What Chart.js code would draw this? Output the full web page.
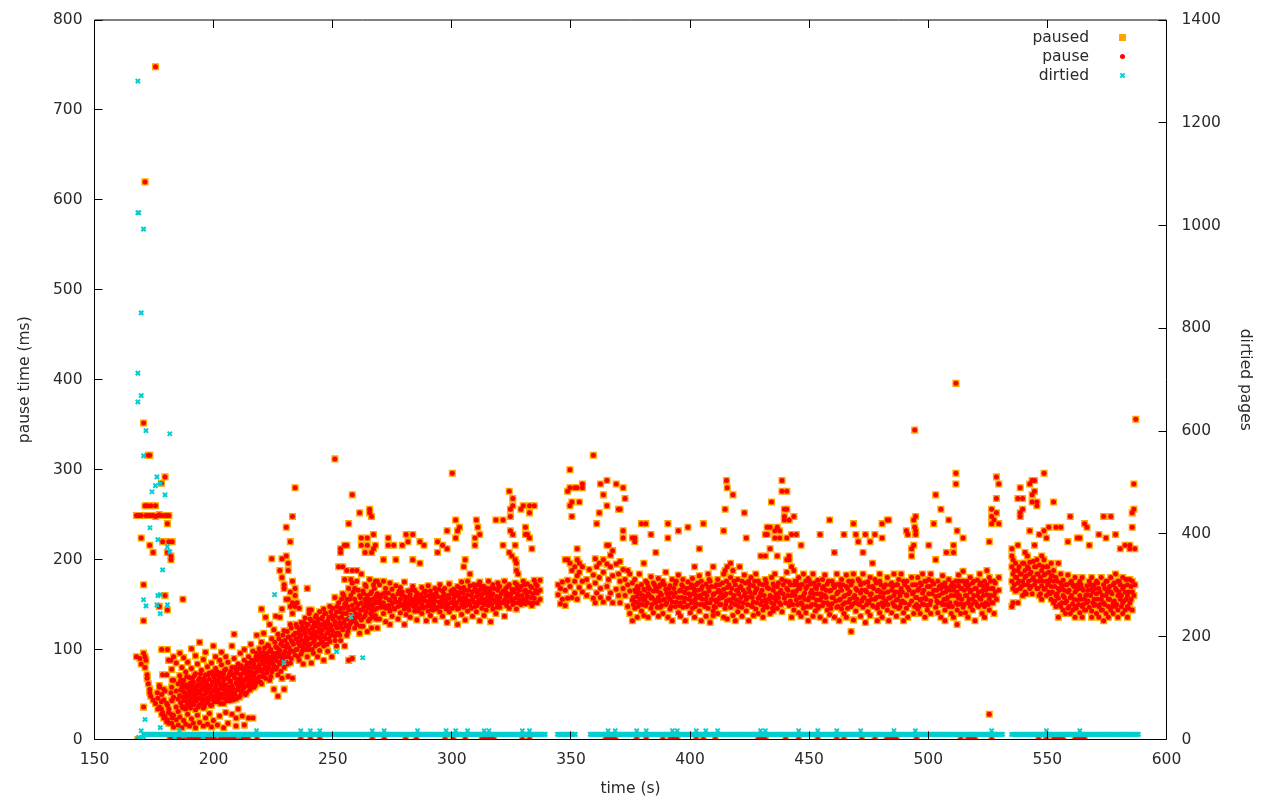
<!DOCTYPE html>
<html><head><meta charset="utf-8">
<style>html,body{margin:0;padding:0;background:#fff}#w{width:1280px;height:800px;position:relative}</style>
<script src="https://cdn.jsdelivr.net/npm/chart.js@4"></script>
</head><body><div id="w"><canvas id="c" width="1280" height="800"></canvas></div>
<script>
const xTicks=[150,200,250,300,350,400,450,500,550,600];
const yTicks=[0,100,200,300,400,500,600,700,800];
const y2Ticks=[0,200,400,600,800,1000,1200,1400];
const seriesNames=['paused','pause','dirtied'];
const axisTitles=['time (s)','pause time (ms)','dirtied pages'];
// rows: [time, value, value, ...]
const pauseEarly=[
[167.6,92,249],[168.2,249],[168.7,249],[169.1,90],[169.6,249,224,84],[170.6,352,172,132,96,36],[171.2,620,92,80,260],[171.6,249,88],[172.1,260,72,68],[172.6,316,249,62],[173.2,316,216,56,52],[173.6,260,249,48],[174.6,208,249,44],[175.6,748,260,248,40],[176.6,249,46,34],[177.2,148,250,60],[178.1,285,249,42,34],[178.6,220,72,30],[179.6,292,249,160,54,26],[180.6,240,208,249,144,100,38,22],[181.2,220,249,34,18],[182.1,204,200,88,28,52],[182.6,220,24,44,66],[187.1,156]];
const pauseCloud=[
[176.4,52],[177.3,36,58],[178.2,28,50,100],[179.1,24,44,56],[180.3,20,40,72],[181.1,30,88],[182.4,18,43,58,78],[183.2,14,27,47,66,92],[184.3,22,36,54,85],[185.1,16,31,45,62],[185.8,25,49,71,96],[186.7,13,37,58,80],[187.4,21,43,53,66,91],[188.3,17,34,48,75],[189.1,28,40,59,86],[189.9,15,45,52,69],[190.7,23,38,57,79,101],[191.5,18,42,50,64],[192.4,13,33,55,73,93],[193.2,27,46,61,84],[194.1,19,39,52,68,108],[194.9,48,58,77],[195.7,15,35,44,65,89],[196.6,24,51,62,72,97],[197.4,17,41,56,81],[198.2,29,47,67,74],[199.1,14,38,53,60,85],[199.9,21,44,71,104],[200.8,49,57,65,79,92],[201.6,16,42,54,75],[202.5,26,47,62,69,88],[203.3,51,58,83,97],[204.2,13,40,56,66,73],[205.1,30,46,61,78,92],[206,18,50,68,86],[206.8,43,55,64,74],[207.7,28,48,60,80,104],[208.6,117,52,70,90],[209.4,15,24,45,63,76],[210.3,34,57,67,84],[211.2,49,60,72,96],[212,26,54,65,79],[212.9,16,58,74,88,100],[213.8,52,69,82],[214.7,24,62,76,92],[215.6,57,71,85,106],[216.5,24,66,80,98],[217.4,60,74,88],[218.1,65,78,96,116]];
const pauseCloudCore=[
[186.2,41,55,66],[187,47,62,35],[187.9,44,52,58],[188.7,38,61,70],[189.5,49,56,42],[190.3,35,47,63],[191.1,53,60,68],[191.9,39,46,71],[192.8,43,58,50],[193.6,36,54,66],[194.5,45,62,73],[195.3,41,55,49],[196.1,37,58,68],[197,46,53,64],[197.8,43,60,72],[198.7,38,51,56],[199.5,48,64,75],[200.3,42,54,69],[201.2,47,61,72],[202,52,44,66],[202.9,40,57,74],[203.7,46,62,70],[204.6,51,60,77],[205.5,43,55,68],[206.4,58,71,47],[207.2,53,65,76],[208.1,44,57,72],[209,50,68,80],[209.9,55,61,74],[210.7,47,64,79],[211.6,53,68,82],[212.4,57,62,74],[213.3,50,66,78],[214.2,60,72,85],[215.1,55,66,80],[216,62,75,88],[216.9,58,70,84],[217.8,63,80,92],[218.6,68,76,88],[219.6,64,78,96],[220.5,70,84,92],[221.4,79,90,102],[222.3,74,86,96],[223.1,80,92,104],[224,70,88,100],[224.9,84,78,96],[225.7,88,92,108],[226.5,80,96,102],[227.4,86,100,112],[228.2,76,94,106],[229.1,88,104,116],[230,92,98,110],[230.9,84,106,120],[231.7,96,102,114],[232.6,90,110,124],[233.5,98,116,106],[234.6,100,112,128],[235.4,92,108,118],[236.3,104,122,114],[237.1,98,110,126],[238,106,120,130],[238.8,100,114,124],[239.7,112,128,104],[240.5,106,118,134],[241.4,100,124,116],[242.3,110,130,120],[243.1,114,126,138],[244,106,120,134],[244.9,118,128,112],[245.7,122,136,108],[246.6,114,130,140],[247.5,118,128,106],[248.4,122,136,112],[249.2,126,116,142],[250.1,120,134,146],[251,128,138,110],[251.9,124,148,118],[252.9,130,142,116],[253.7,136,124,156],[254.6,130,146,160],[255.5,126,140,152],[256.3,134,148,120],[257.1,138,156,128],[258.6,132,144,164],[259.7,140,152,130],[260.7,136,150,166],[261.6,144,158,126],[263,148,136,162],[264,152,142,170],[265,146,156,132],[265.9,150,162,140],[266.7,136,156,146],[267.5,154,144,168],[268.3,152,160,134]];
const pauseRamp=[
[219.2,70,83,92,101],[220.1,145,62,76,88,108],[221,73,86,97,118],[221.8,68,81,93,136],[222.7,78,90,105],[223.5,66,84,98,128],[224.4,201,75,92,112],[225.3,56,82,95,122],[226.1,78,88,103,137],[227,48,72,92,117],[227.8,188,84,99,136],[228.7,201,180,68,90,109,145],[229.6,172,168,56,80,96,121],[230.5,236,204,86,103,156],[231.3,188,196,156,70,92,114],[232.2,220,164,148,128,85,99],[233.1,248,176,140,68,108,152],[234.2,280,168,160,148,94,118],[235,152,100,112,125],[235.9,88,106,120,146],[236.7,95,116,130],[237.6,84,102,124],[238.4,110,135,118],[239.3,168,92,107,128],[240.1,144,100,121,140],[241,144,85,113,132],[241.9,96,108,126],[242.7,104,118,136],[243.6,92,114,130],[244.5,99,123,142],[245.3,108,117,134],[246.2,88,104,127,145],[247.1,112,124,140],[247.9,98,119,132],[248.8,109,128,148],[249.6,92,122,138],[250.9,312,115,131,158],[251.6,104,125,142],[252.5,118,135,152,192],[253.3,208,212,110,128,146],[254.2,192,122,140,162],[255,216,104,133,150,178],[255.9,216,188,116,127,156],[256.7,240,88,124,144,168],[257.6,178,130,138,160],[258.2,272,90,149,174,188],[259.2,124,135,156,168],[260.1,188,128,146,176],[261.3,252,118,139,160],[262,224,216,133,152,184],[262.7,144,165,126],[263.6,208,138,156,172],[264.5,224,216,148,160,120],[265.5,256,252,134,152,178],[266.3,248,208,142,164,124],[267.1,228,212,150,172],[267.9,216,138,158,176],[268.7,176,146,124,162]];
const pauseBandA=[
[269.6,134,155,172],[270.4,147,161],[271.3,200,140,152,176],[272.2,131,146,158,168],[273.3,224,216,149,163],[274,128,143,155,174],[274.9,137,151,167],[275.6,216,146,159],[276.5,200,153,171],[277.4,134,148,162],[278.4,141,156,169],[279.2,216,150,164],[280.1,128,145,159,175],[280.8,228,139,152],[281.6,220,147,165],[282.5,136,154,161],[283.6,228,200,149,170],[284.4,143,156,166],[285.3,133,151,163],[286.6,220,196,146,158],[287.4,150,169,140],[288.3,216,155,164],[289.3,132,148,160],[290.1,143,153,171],[291,138,157,165],[292,149,161,144],[292.9,154,168,133],[294,220,208,147,159],[295,142,152,172],[296.1,216,137,156,165],[297,148,160,168],[298,232,212,130,151],[298.9,142,157,173],[300.2,296,146,162],[300.7,136,154,167],[301.6,244,224,149,160],[302.4,232,128,145,170],[303.2,236,155,163],[304.1,139,150,175],[305,192,147,158,169],[305.6,200,133,153,166],[306.6,143,161,176],[307.6,184,150,171],[308.7,137,156,164],[309.7,224,216,148,168],[310.3,244,142,159],[310.9,236,153,172],[311.7,228,132,161,175],[312.6,146,157,167],[313.5,138,151,170],[314.4,154,163,144],[315.4,149,160,176],[316.3,131,156,168],[317.2,145,162,172],[318.5,244,140,153],[319.3,150,166,174],[320.1,147,158,170],[321.5,244,216,152,165],[322.1,137,155,176],[323,149,163,158],[324.1,276,208,146,172],[324.6,256,248,232,160],[325.2,204,154,167],[325.6,268,260,228,150,164],[326.6,216,200,157,174],[327.1,196,188,145,168],[327.8,184,152,160],[329,256,150,170],[330,260,156,176],[330.9,236,228,151,166],[331.7,228,159,173],[332.6,260,252,224,152,164],[333.6,212,149,169],[334.6,260,157,177],[335.8,152,163,171],[337,156,177,166]];
const pauseBandACore=[[270,151,158],[271.8,148,163],[273.7,155,147],[275.1,160,152],[276,145,157],[277.9,153,165],[278.9,149,161],[280.4,154,148],[281.2,158,152],[282,150,144],[283,156,166],[284,148,152],[285,159,147],[285.9,155,143],[287,161,153],[288,146,158],[289,154,165],[290.6,149,160],[291.6,153,146],[292.4,157,150],[293.4,163,145],[294.6,153,167],[295.6,148,158],[296.6,151,162],[297.6,155,145],[298.5,160,147],[299.6,152,165],[301,158,150],[302,152,164],[302.9,146,160],[303.7,157,168],[304.6,153,163],[306,156,149],[307.1,154,166],[308.2,160,146],[309.2,153,172],[310.6,164,149],[311.3,155,166],[312.1,152,171],[313,162,156],[314,150,166],[314.9,158,168],[315.9,153,164],[316.8,160,150],[317.8,155,168],[318.9,159,147],[319.7,155,170],[320.7,162,152],[322.6,160,168],[323.4,153,170],[324.9,156,162],[326.1,152,166],[327.4,162,172],[328.4,155,166],[329.5,160,153],[330.5,165,172],[331.3,155,163],[333.1,158,170],[334.1,162,152],[335.2,166,173]];
const pauseBandB=[
[344.6,161,172],[345.6,151,168],[346.4,156,175],[347.6,200,149,166],[348.6,276,200,157,177],[349.6,300,280,260,196,170],[350.4,248,264,188,158],[351.6,280,192,163,176],[352.6,212,280,200,156,182],[353.5,264,196,169,186],[354.8,284,280,164,176,192],[356.6,178,160],[357.7,170,189],[359.4,316,183,157],[360.2,201,152,174],[360.8,240,163,192],[361.9,252,180,196],[362.4,284,168,158],[363.6,272,200,186,153],[365.1,288,260,216,170,195],[365.8,216,178,157],[366.6,192,205,163],[367.5,182,210,152],[369,284,195,167],[370,256,184,160],[370.6,256,176,198,152],[371.9,280,224,232,168,189],[372.7,268,160,178],[373.8,148,172,188],[374.7,165,140,184],[375.8,224,155,174,132],[376.8,224,220,146,166,178],[377.8,136,159,170],[378.7,151,163,184],[379.6,240,143,172],[380.6,196,138,155,167],[381.4,240,149,176,159],[382.4,162,136,170],[383.6,228,146,157,181],[384.6,141,165,174],[385.6,208,152,168],[386.7,137,158,179],[387.5,147,163,172],[388.6,155,176,140],[389.8,150,167,186],[390.7,240,224,136,160],[391.6,145,171,156],[392.5,132,153,178],[393.8,163,148,173],[395.1,232,141,158,183],[396,152,166,137],[397,147,170,178],[398,132,157,163],[399.1,236,149,175],[400.1,141,160,169],[401,154,179,146],[401.9,192,136,165],[402.6,151,172,160],[403.9,212,143,158,182],[404.7,132,167,176],[405.6,240,150,162],[406.7,137,156,173],[407.6,146,169,184],[408.4,130,152,176],[409.7,192,143,161,138],[410.6,155,170,147],[411.6,164,178,140],[412.4,150,172,158],[414.1,232,136,167,184],[414.7,256,188,146,160],[415.3,288,176,154],[415.6,280,192,169,134],[417,196,147,163,180],[418,272,188,138,157],[419,150,172,132],[420,142,165,178],[420.8,192,153,169],[421.8,147,176,137],[422.8,252,160,183],[423.6,224,143,156],[424.6,132,168,176],[425.6,149,159,180],[426.6,138,153,171],[427.6,145,166,184],[428.6,157,176,140],[429.7,204,150,163],[430.6,144,172,136],[431.6,228,204,155,178],[432.4,228,236,147,169],[433.6,236,212,140,160],[434.2,264,152,180],[434.9,143,173,166],[435.6,224,232,157,184],[436.6,236,204,146,170],[437.6,224,232,152,163],[438.6,288,276,142,178],[439.6,256,248,244,157],[440.6,276,256,224,200,168,186],[441.6,244,204,200,149,175],[442.6,228,192,160,136],[443.6,248,188,144,172],[444.6,228,176,155,165],[445.6,141,168,180]];
const pauseBandBCore=[[376.2,158,150],[377.2,164,153],[378.2,148,168],[379,156,163],[380,160,150],[381,166,156],[382,152,174],[383,160,167],[384,150,158],[385.1,155,172],[386.2,147,165],[387.1,170,154],[388,161,149],[389.2,156,172],[390.2,163,152],[391.1,168,158],[392,148,163],[393.2,159,168],[394.2,153,176],[395.6,165,149],[396.5,158,172],[397.5,153,164],[398.6,168,148],[399.6,156,162],[400.6,152,172],[401.5,162,168],[402.2,156,148],[403.3,166,174],[404.3,150,160],[405.1,170,156],[406.2,163,148],[407.1,160,152],[408,165,178],[409,156,170],[410.1,148,162],[411.1,153,172],[412,166,156],[413,150,163],[413.6,158,174],[415,162,150],[416.4,155,172],[417.5,168,152],[418.5,160,176],[419.5,155,166],[420.4,148,162],[421.3,170,158],[422.3,152,166],[423.2,163,174],[424.1,150,158],[425.1,164,172],[426.1,158,148],[427.1,163,176],[428.1,152,168],[429.2,159,173],[430.2,166,154],[431.1,160,148],[432,152,174],[433,168,156],[434.6,158,146],[435.2,150,170],[436.1,162,154],[437.1,174,158],[438.1,150,166],[439.1,162,172],[440.1,152,176],[441.1,160,166],[442.1,154,172],[443.1,150,164],[444.1,160,176],[445.1,150,172]];
const pauseBandC=[
[446.6,216,152,172,137],[447.6,160,184,146],[448.6,141,168,176],[449.6,155,179,132],[450.6,148,163,173],[451.6,137,158,184],[452.6,150,170,143],[453.6,162,177,146],[454.6,228,136,155],[455.6,149,168,178],[456.6,132,160,183],[457.6,144,173,152],[458.6,244,139,165],[459.6,151,176,158],[460.6,208,136,169],[461.6,147,162,184],[462.6,132,155,173],[463.6,145,166,178],[464.6,228,140,159],[465.6,136,170,183],[466.6,153,162,176],[467.6,120,148,172],[468.6,240,133,158,184],[469.6,228,143,168],[470.6,220,151,178],[471.6,137,163,172],[472.6,208,147,157,184],[473.6,228,130,166],[474.6,142,175,154],[475.6,220,138,161,180],[476.6,196,149,170],[477.6,228,156,178],[478.6,132,146,165],[479.6,141,159,176,184],[480.6,240,224,136,152],[481.4,150,169,163],[482.8,244,144,180],[483.4,244,132,157],[484.6,141,166,174],[485.6,149,160,184],[486.6,137,172,155],[487.6,146,164,178],[488.6,152,168,184],[489.6,141,176,132],[490.8,232,146,161],[491.4,228,136,169],[493,204,212,154,180],[493.9,244,216,140,164],[494.3,344,236,148],[494.7,248,232,228,172,158],[495.6,145,166,180],[496.6,140,155,174],[497.6,151,163,184],[498.6,136,158,176],[499.6,149,170,144],[500.2,216,162,178],[501,140,154,184],[502.3,240,166,173],[503.1,272,200,147,159],[504,141,176,152],[505.3,256,136,168],[506,150,163,182],[507,144,174,132],[507.6,208,156,169],[508.6,244,148,178],[509.6,140,160,171],[510.6,216,208,136,166],[511.6,396,296,284,152,176],[512.1,232,144,164,128],[512.7,157,183,171],[513.6,151,168,140],[514.6,224,147,176,187],[515.6,141,160,172],[516.6,136,152,168],[517.6,148,164,180],[518.6,144,174,156],[519.6,153,168,132],[520.6,149,160,177],[521.6,157,172,184],[522.6,140,165,150],[523.6,148,176,136],[524.6,161,172,188],[525.6,220,144,156,180,28],[526.6,256,248,240,152,168],[527.6,244,160,176,140],[528.6,292,268,252,156],[529.6,284,240,166,180],[535.1,212,204,192,148,176],[535.6,200,184,152,168],[536.6,180,165,196],[537.6,268,216,174,188,152],[538.6,280,252,248,168,184],[539.6,268,256,176,196,160],[540.6,208,180,164,188],[541.6,204,172,192],[542.6,284,232,184,168,197],[543.6,288,272,264,178,162],[544.6,288,276,216,192,172],[545.6,264,260,168,200,184],[546.6,228,194,160,176],[547.6,204,171,188,156],[548.6,296,232,183,200,167],[549.6,224,176,192,160],[550.6,236,164,186,175],[551.6,196,170,156,182],[552.6,264,176,152,188],[553.6,236,180,160,148],[554.6,196,136,168,157],[555.6,236,174,148,184],[556.6,160,177,144],[557.6,172,152,140],[558.6,220,164,146,183],[559.6,248,158,174,140],[560.6,172,151,144],[561.6,148,164,136,180],[562.6,224,155,172],[563.6,224,160,141,176],[564.6,168,148,180,136],[565.6,240,156,144],[566.6,236,152,171,161],[567.6,216,176,147],[568.6,143,167,180,136],[569.6,156,172,149],[570.6,162,140,176],[571.6,228,148,168,136],[572.6,156,144,180],[573.6,248,152,172,132],[574.6,224,160,140,176],[575.6,156,148,168,136],[576.6,248,164,144,180],[577.6,152,172,140],[578.6,228,148,168,184],[579.6,144,160,176,136],[580.6,212,156,172],[581.6,152,168,140,180],[582.6,216,144,164],[583.6,148,160,172,136],[584.6,216,212,152,178],[585.6,252,236,144,164,176],[586.3,284,256,160],[586.7,172,212],[587.1,356]];
const pauseBandCCore=[[446.1,158,168],[447.1,150,172],[448.1,156,163],[449.1,170,148],[450.1,158,176],[451.1,150,166],[452.1,162,174],[453.1,155,168],[454.1,148,172],[455.1,162,158],[456.1,152,170],[457.1,166,158],[458.1,150,176],[459.1,166,146],[460.1,158,172],[461.1,154,172],[462.1,164,148],[463.1,156,170],[464.1,150,172],[465.1,160,152],[466.1,146,168],[467.1,156,164],[468.1,150,176],[469.1,160,152],[470.1,166,156],[471.1,150,176],[472.1,166,154],[473.1,158,174],[474.1,150,164],[475.1,152,170],[476.1,162,156],[477.1,148,168],[478.1,158,174],[479.1,150,166],[480.1,164,172],[481,158,148],[482.1,154,172],[483,164,150],[484.1,158,172],[485.1,152,170],[486.1,164,148],[487.1,156,172],[488.1,160,148],[489.1,164,154],[490.1,172,152],[491,160,176],[492,150,166],[493.4,162,172],[495.1,158,150],[496.1,168,148],[497.1,156,172],[498.1,166,150],[499.1,156,176],[500.7,150,170],[501.6,162,176],[503.6,166,154],[504.6,160,170],[505.7,152,172],[506.6,170,156],[507.3,150,164],[508.1,158,168],[509.1,152,166],[510.1,174,148],[511.1,160,170],[512.4,150,176],[513.1,160,176],[514.1,156,168],[515.1,150,166],[516.1,160,176],[517.1,156,172],[518.1,150,166],[519.1,160,176],[520.1,152,168],[521.1,148,164],[522.1,156,174],[523.1,160,170],[524.1,152,166],[525.1,168,150],[526.1,160,176],[527.1,152,168],[528.1,164,174],[536.1,172,188],[537.1,166,180],[538.1,176,192],[539.1,170,184],[540.1,172,196],[541.1,182,162],[542.1,176,190],[543.1,186,170],[544.1,180,198],[545.1,176,192],[546.1,168,184],[547.1,180,162],[548.1,176,192],[549.1,184,168],[550.1,172,192],[551.1,178,162],[552.1,164,182],[553.1,170,154],[554.1,162,176],[555.1,166,150],[556.1,170,152],[557.1,158,166],[558.1,154,172],[559.1,166,148],[560.1,160,176],[561.1,156,170],[562.1,166,146],[563.1,150,168],[564.1,156,172],[565.1,150,166],[566.1,160,144],[567.1,154,166],[568.1,160,172],[569.1,164,152],[570.1,150,168],[571.1,156,174],[572.1,164,150],[573.1,160,144],[574.1,150,168],[575.1,164,176],[576.1,156,170],[577.1,162,148],[578.1,154,174],[579.1,166,150],[580.1,164,176],[581.1,160,148],[582.1,170,154],[583.1,156,178],[584.1,164,146],[585.1,156,170]];
const pauseFloorTimes=[168.2,168.6,181.6,182.6,183.6,184.6,185.6,186.6,187.6,188.6,189.6,190.6,191.6,192.6,193.6,194.6,195.6,196.6,197.6,198.6,199.6,200.6,202.6,203.6,204.6,205.6,206.6,207.6,208.6,209.6,210.6,211.6,212.6,213.6,214.6,218.2,236.6,240.6,244.6,266.6,271.6,280.6,285.1,297.2,300.6,305.6,312.6,313.6,314.6,315.6,316.6,317.6,329.6,332.6,364.6,365.6,366.6,367.6,368.6,377.6,381.6,388.6,391.6,392.6,393.6,394.6,402.6,405.6,410.6,428.6,429.6,430.6,431.6,440.1,445.6,453.6,461.6,464.6,472.1,477.6,482.6,483.6,484.6,485.6,486.6,495.1,513.6,516.6,517.6,518.6,519.6,526.6,546.3,549.6,552.6,553.6,554.6,555.6,556.6,561.6,562.6,563.6,564.6,565.6];
// rows: [pages, time, time, ...]
const dirtiedBase=[[10,170.6,171.4,172.2,172.9,173.7,174.4,175.2,176,176.7,177.5,178.2,179,179.8,180.5,181.3,182,182.8,183.6,184.3,185.1,185.8,186.6,187.4,188.1,188.9,189.6,190.4,191.2,191.9,192.7,193.4,194.2,195,195.7,196.5,197.2,198,198.8,199.5,200.3,201,201.8,202.6,203.3,204.1,204.8,205.6,206.4,207.1,207.9,208.6,209.4,210.2,210.9,211.7,212.4,213.2,214,214.7,215.5,216.2,217,217.8,218.5,219.3,220,220.8,221.6,222.3,223.1,223.8,224.6,225.4,226.1,226.9,227.6,228.4,229.2,229.9,230.7,231.4,232.2,233,233.7,234.5,235.2,236,236.8,237.5,238.3,239,239.8,240.6,241.3,242.1,242.8,243.6,244.4,245.1,245.9,246.6,247.4,248.2,248.9,249.7,250.4,251.2,252,252.7,253.5,254.2,255,255.8,256.5,257.3,258,258.8,259.6,260.3,261.1,261.8,262.6,263.4,264.1,264.9,265.6,266.4,267.2,267.9,268.7,269.4,270.2,271,271.7,272.5,273.2,274,274.8,275.5,276.3,277,277.8,278.6,279.3,280.1,280.8,281.6,282.4,283.1,283.9,284.6,285.4,286.2,286.9,287.7,288.4,289.2,290,290.7,291.5,292.2,293,293.8,294.5,295.3,296,296.8,297.6,298.3,299.1,299.8,300.6,301.4,302.1,302.9,303.6,304.4,305.2,305.9,306.7,307.4,308.2,309,309.7,310.5,311.2,312,312.8,313.5,314.3,315,315.8,316.6,317.3,318.1,318.8,319.6,320.4,321.1,321.9,322.6,323.4,324.2,324.9,325.7,326.4,327.2,328,328.7,329.5,330.2,331,331.8,332.5,333.3,334,334.8,335.6,336.3,337.1,337.8,338.6,339.2],
[10,344.3,345,345.8,346.6,347.3,348.1,348.8,349.6,350.4,351.1,351.8,358.1,358.8,359.6,360.4,361.1,361.9,362.6,363.4,364.2,364.9,365.7,366.4,367.2,368,368.7,369.5,370.2,371,371.8,372.5,373.3,374,374.8,375.6,376.3,377.1,377.8,378.6,379.4,380.1,380.9,381.6,382.4,383.2,383.9,384.7,385.4,386.2,387,387.7,388.5,389.2,390,390.8,391.5,392.3,393,393.8,394.6,395.3,396.1,396.8,397.6,398.4,399.1,399.9,400.6,401.4,402.2,402.9,403.7,404.4,405.2,406,406.7,407.5,408.2,409,409.8,410.5,411.3,412,412.8,413.6,414.3,415.1,415.8,416.6,417.4,418.1,418.9,419.6,420.4,421.2,421.9,422.7,423.4,424.2,425,425.7,426.5,427.2,428,428.8,429.5,430.3,431,431.8,432.6,433.3,434.1,434.8,435.6,436.4,437.1,437.9,438.6,439.4,440.2,440.9,441.7,442.4,443.2,444,444.7,445.5,446.2,447,447.8,448.5,449.3,450,450.8,451.6,452.3,453.1,453.8,454.6,455.4,456.1,456.9,457.6,458.4,459.2,459.9,460.7,461.4,462.2,463,463.7,464.5,465.2,466,466.8,467.5,468.3,469,469.8,470.6,471.3,472.1,472.8,473.6,474.4,475.1,475.9,476.6,477.4,478.2,478.9,479.7,480.4,481.2,482,482.7,483.5,484.2,485,485.8,486.5,487.3,488,488.8,489.6,490.3,491.1,491.8,492.6,493.4,494.1,494.9,495.6,496.4,497.2,497.9,498.7,499.4,500.2,501,501.7,502.5,503.2,504,504.8,505.5,506.3,507,507.8,508.6,509.3,510.1,510.8,511.6,512.4,513.1,513.9,514.6,515.4,516.2,516.9,517.7,518.4,519.2,520,520.7,521.5,522.2,523,523.8,524.5,525.3,526,526.8,527.6,528.3,529.1,529.8,530.6,531.2],
[10,535,535.8,536.6,537.3,538.1,538.8,539.6,540.4,541.1,541.9,542.6,543.4,544.2,544.9,545.7,546.4,547.2,548,548.7,549.5,550.2,551,551.8,552.5,553.3,554,554.8,555.6,556.3,557.1,557.8,558.6,559.4,560.1,560.9,561.6,562.4,563.2,563.9,564.7,565.4,566.2,567,567.7,568.5,569.2,570,570.8,571.5,572.3,573,573.8,574.6,575.3,576.1,576.8,577.6,578.4,579.1,579.9,580.6,581.4,582.2,582.9,583.7,584.4,585.2,586,586.7,587.5,588.2],
[17,169.6,185.6,218,236.6,240.6,244.6,266.6,271.6,285.6,297.6,301.6,306.6,313.6,315.6,329.6,332.6,365.6,368.6,377.6,381.6,392.6,394.6,402.6,406.6,411.6,429.6,431.6,445.6,453.6,461.6,471.6,485.6,494.6,526.6,549.6,563.6]];
const dirtiedHigh=[[168.2,1281,1025,713,657],[168.6,1025,4],[169.6,830,669],[170.6,993,552,272,5],[171.2,39],[171.6,601,260],[173.3,412],[174.1,482],[175.6,494],[176.2,511,262],[176.6,389,280],[177.6,498,282,245,23],[178.6,330],[179.6,476],[180.6,375,262],[181.6,595,365],[225.6,282],[229.6,150],[251.6,171],[257.6,239],[262.6,159],[195.6,5],[183.6,4],[187.6,7],[210.6,6]];

const rowsToPoints=rows=>rows.flatMap(([t,...vs])=>vs.map(v=>({x:t,y:v})));
const pausePoints=[pauseEarly,pauseCloud,pauseCloudCore,pauseRamp,pauseBandA,pauseBandACore,pauseBandB,pauseBandBCore,pauseBandC,pauseBandCCore].flatMap(rowsToPoints).concat(pauseFloorTimes.map(t=>({x:t,y:0})));
const dirtiedPoints=[...dirtiedBase.flatMap(([p,...ts])=>ts.map(t=>({x:t,y:p}))),...rowsToPoints(dirtiedHigh)];

const FONT='"DejaVu Sans"',FS=15.5,TXT='#2a2a2a';
const L=94.5,R=1166.5,T=20,B=739.5;
const frame={id:'frame',afterDraw(ch){
 const c=ch.ctx,a=ch.chartArea;
 c.save();c.strokeStyle='#000';c.lineWidth=1;c.beginPath();
 c.rect(a.left,a.top,a.right-a.left,a.bottom-a.top);
 const tl=8;
 ch.scales.x.ticks.forEach((t,i)=>{const p=Math.floor(ch.scales.x.getPixelForTick(i))+.5;c.moveTo(p,a.bottom);c.lineTo(p,a.bottom-tl);c.moveTo(p,a.top);c.lineTo(p,a.top+tl);});
 ch.scales.y.ticks.forEach((t,i)=>{const p=Math.floor(ch.scales.y.getPixelForTick(i))+.5;c.moveTo(a.left,p);c.lineTo(a.left+tl,p);});
 ch.scales.y2.ticks.forEach((t,i)=>{const p=Math.floor(ch.scales.y2.getPixelForTick(i))+.5;c.moveTo(a.right,p);c.lineTo(a.right-tl,p);});
 c.stroke();
 c.font=FS+'px '+FONT;c.textAlign='right';c.textBaseline='middle';
 ch.data.datasets.forEach((d,i)=>{
  const y=38+i*19;
  c.fillStyle=TXT;c.fillText(d.label,1089,y);
  const mx=1122.5,my=y-.5;
  if(i==0){c.fillStyle=d.backgroundColor;c.fillRect(mx-3.5,my-3.5,7,7);}
  if(i==1){c.fillStyle=d.backgroundColor;c.beginPath();c.arc(mx,my,2.5,0,7);c.fill();}
  if(i==2){c.strokeStyle=d.borderColor;c.lineWidth=2;c.beginPath();c.moveTo(mx-2.1,my-2.1);c.lineTo(mx+2.1,my+2.1);c.moveTo(mx+2.1,my-2.1);c.lineTo(mx-2.1,my+2.1);c.stroke();}
 });
 c.restore();
}};
const tickFont={family:FONT,size:FS};
new Chart(document.getElementById('c'),{
 type:'scatter',
 plugins:[frame],
 data:{datasets:[
  {label:seriesNames[0],data:pausePoints,yAxisID:'y',order:3,pointStyle:'rect',pointRadius:5,pointBorderWidth:0,backgroundColor:'#ffa500',borderColor:'#ffa500'},
  {label:seriesNames[1],data:pausePoints,yAxisID:'y',order:2,pointStyle:'circle',pointRadius:2.5,pointBorderWidth:0,backgroundColor:'#ff0000',borderColor:'#ff0000'},
  {label:seriesNames[2],data:dirtiedPoints,yAxisID:'y2',order:1,pointStyle:'crossRot',pointRadius:3,pointBorderWidth:2,backgroundColor:'#00ced1',borderColor:'#00ced1'}
 ]},
 options:{
  responsive:false,animation:false,devicePixelRatio:1,
  layout:{padding:{top:T,left:0,right:0,bottom:0}},
  plugins:{legend:{display:false},tooltip:{enabled:false}},
  scales:{
   x:{type:'linear',min:150,max:600,
     afterBuildTicks(s){s.ticks=xTicks.map(v=>({value:v}));},
     afterFit(s){s.height=800-B;},
     grid:{display:false},border:{display:false},
     ticks:{font:tickFont,color:TXT,padding:3,maxRotation:0,autoSkip:false,callback:v=>String(v)},
     title:{display:true,text:axisTitles[0],font:tickFont,color:TXT,padding:{top:9,bottom:2}}},
   y:{type:'linear',position:'left',min:0,max:800,
     afterBuildTicks(s){s.ticks=yTicks.map(v=>({value:v}));},
     afterFit(s){s.width=L;},
     grid:{display:false},border:{display:false},
     ticks:{font:tickFont,color:TXT,padding:4,autoSkip:false,callback:v=>String(v)},
     title:{display:true,text:axisTitles[1],font:tickFont,color:TXT,padding:{top:16,bottom:0}}},
   y2:{type:'linear',position:'right',min:0,max:1400,
     afterBuildTicks(s){s.ticks=y2Ticks.map(v=>({value:v}));},
     afterFit(s){s.width=1280-R;},
     grid:{display:false},border:{display:false},
     ticks:{font:tickFont,color:TXT,padding:7,autoSkip:false,callback:v=>String(v)},
     title:{display:true,text:axisTitles[2],font:tickFont,color:TXT,padding:{top:26,bottom:0}}}
  }
 }
});
</script></body></html>
